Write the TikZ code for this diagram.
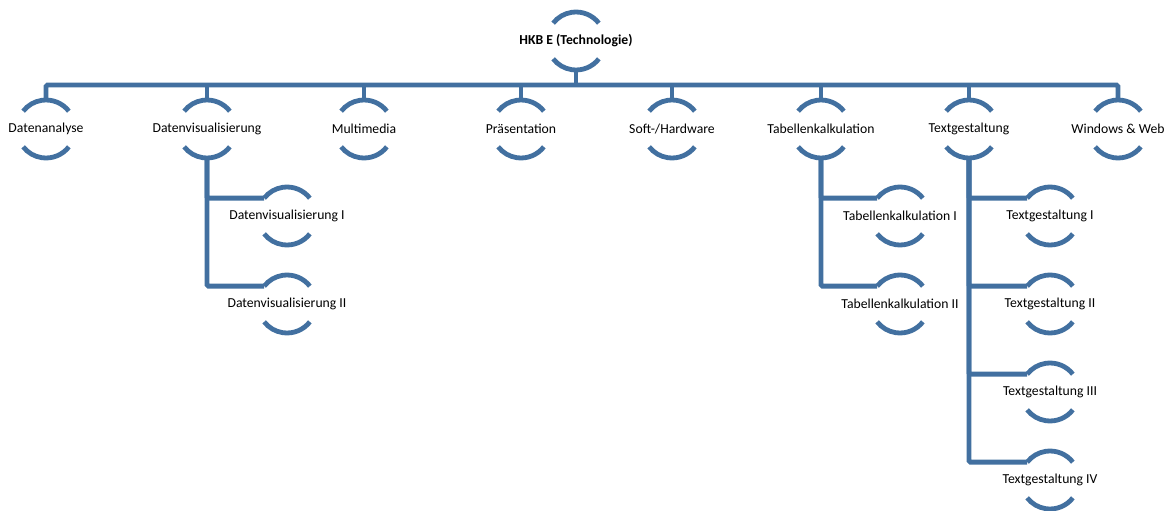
\documentclass[tikz,border=0pt]{standalone}
\usepackage{fontspec}
\setmainfont{Carlito}
\definecolor{arcblue}{RGB}{66,112,160}
\tikzset{
  lbl/.style={inner sep=0pt, font=\fontsize{13.7}{16}\selectfont, text=black},
  rootlbl/.style={lbl, font=\fontsize{13.7}{16}\selectfont\bfseries},
  arcline/.style={draw=arcblue, line width=4.8pt},
  conn/.style={draw=arcblue, line width=4.8pt, rounded corners=1.5pt},
}
\newcommand{\arcpair}[1]{%
  \draw[arcline] ([shift={(38:29)}]#1.center) arc[start angle=38, end angle=142, radius=29];
  \draw[arcline] ([shift={(-38:29)}]#1.center) arc[start angle=-38, end angle=-142, radius=29];
}
\begin{document}
\begin{tikzpicture}[x=1pt,y=1pt]
\useasboundingbox (0,0) rectangle (1171,-511);
% root
\node[rootlbl] (root) at (576,-41) {HKB E (Technologie)};
% level 1
\node[lbl] (da) at (46,-129) {Datenanalyse};
\node[lbl] (dv) at (207,-129) {Datenvisualisierung};
\node[lbl] (mm) at (364,-129) {Multimedia};
\node[lbl] (pr) at (521,-129) {Präsentation};
\node[lbl] (sh) at (672,-129) {Soft-/Hardware};
\node[lbl] (tk) at (821,-129) {Tabellenkalkulation};
\node[lbl] (tg) at (969,-129) {Textgestaltung};
\node[lbl] (ww) at (1118,-129) {Windows \& Web};
% level 2
\node[lbl] (dv1) at (287,-216) {Datenvisualisierung I};
\node[lbl] (dv2) at (287,-304) {Datenvisualisierung II};
\node[lbl] (tk1) at (900,-216) {Tabellenkalkulation I};
\node[lbl] (tk2) at (900,-304) {Tabellenkalkulation II};
\node[lbl] (tg1) at (1050,-216) {Textgestaltung I};
\node[lbl] (tg2) at (1050,-304) {Textgestaltung II};
\node[lbl] (tg3) at (1050,-392) {Textgestaltung III};
\node[lbl] (tg4) at (1050,-480) {Textgestaltung IV};
% arcs
\foreach \n in {root,da,dv,mm,pr,sh,tk,tg,ww,dv1,dv2,tk1,tk2,tg1,tg2,tg3,tg4}{\arcpair{\n}}
% helper coordinates
\coordinate (bar) at (576,-85);
\coordinate (rootbot) at ([yshift=-29]root.center);
\foreach \n in {da,dv,mm,pr,sh,tk,tg,ww}{
  \coordinate (\n-top) at ([yshift=29]\n.center);
}
\foreach \n in {dv,tk,tg}{
  \coordinate (\n-bot) at ([yshift=-29]\n.center);
}
\foreach \n in {dv1,dv2,tk1,tk2,tg1,tg2,tg3,tg4}{
  \coordinate (\n-in) at ([shift={(142:29)}]\n.center);
}
% connectors
\draw[conn] (rootbot) -- (bar);
\draw[conn] (da-top) |- (bar) -| (ww-top);
\foreach \n in {dv,mm,pr,sh,tk,tg}{
  \draw[conn] (\n-top) -- (\n-top |- bar);
}
\draw[conn] (dv-bot) |- (dv1-in);
\draw[conn] (dv-bot) |- (dv2-in);
\draw[conn] (tk-bot) |- (tk1-in);
\draw[conn] (tk-bot) |- (tk2-in);
\draw[conn] (tg-bot) |- (tg1-in);
\draw[conn] (tg-bot) |- (tg2-in);
\draw[conn] (tg-bot) |- (tg3-in);
\draw[conn] (tg-bot) |- (tg4-in);
\end{tikzpicture}
\end{document}
